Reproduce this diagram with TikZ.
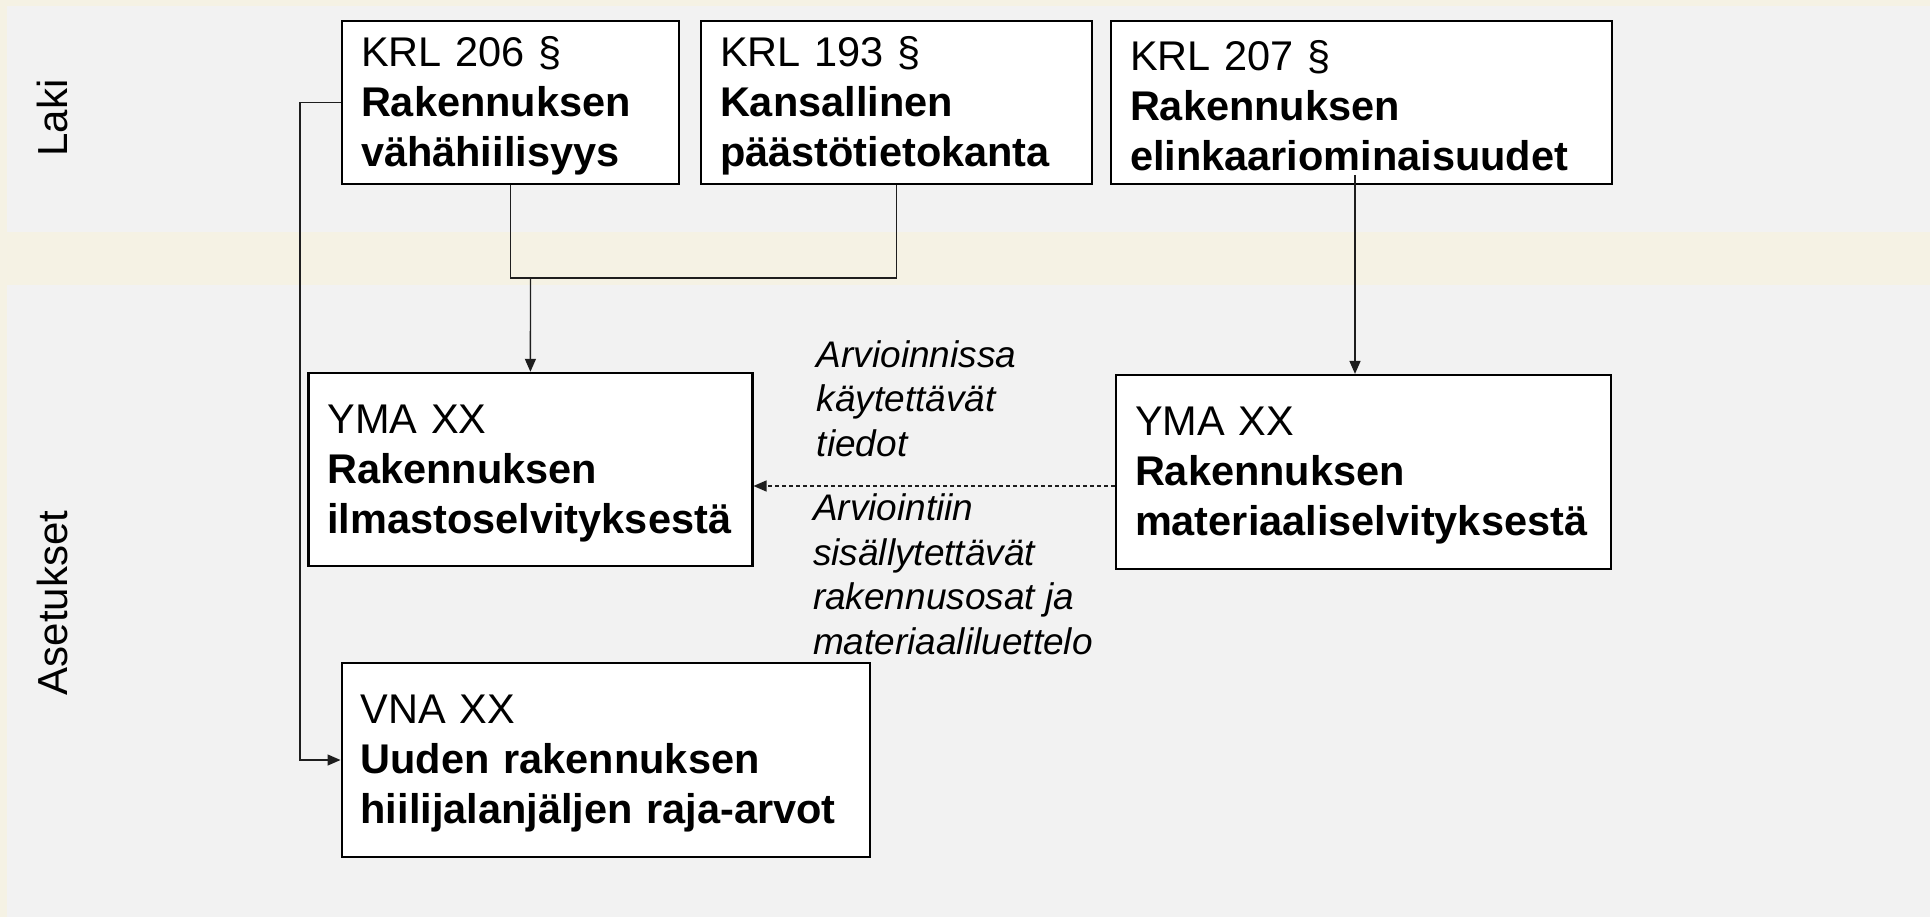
\documentclass[tikz,border=0pt]{standalone}
\usepackage{fontspec}
\setmainfont{Liberation Sans}
\usetikzlibrary{arrows.meta}
\definecolor{beige}{RGB}{245,242,228}
\definecolor{panel}{RGB}{242,242,242}
\definecolor{lineclr}{RGB}{30,30,30}
\newcommand{\boxlift}{\rule{0pt}{36pt}}
\tikzset{
  lawbox/.style={draw=black, line width=2.2pt, fill=white, inner xsep=19pt, inner ysep=0pt,
    align=left, font=\fontsize{41.5}{50}\selectfont, anchor=center},
  sidelabel/.style={rotate=90, font=\fontsize{42}{50}\selectfont, inner sep=0pt},
  notelabel/.style={font=\itshape\fontsize{37}{44.5}\selectfont, align=left, inner sep=0pt, anchor=north west},
  conn/.style={draw=lineclr, line width=1.4pt},
  arr/.style={-{Triangle[length=13pt,width=11pt]}}
}
\begin{document}
\begin{tikzpicture}[x=1pt,y=-1pt]
\useasboundingbox (0,0) rectangle (1930,917);
% backgrounds
\fill[beige] (0,0) rectangle (1930,917);
\fill[panel] (7,6) rectangle (1930,232);
\fill[panel] (7,285) rectangle (1930,917);
% side labels
\node[sidelabel] (laki) at (52,118) {Laki};
\node[sidelabel] (ase) at (52,603) {Asetukset};
% boxes
\node[lawbox, minimum width=337pt, minimum height=163pt, text width=299pt] (k206) at (510.5,102.5)
  {\boxlift KRL 206 §\\\textbf{Rakennuksen}\\\textbf{vähähiilisyys}};
\node[lawbox, minimum width=391pt, minimum height=163pt, text width=353pt] (k193) at (896.5,102.5)
  {\boxlift KRL 193 §\\\textbf{Kansallinen}\\\textbf{päästötietokanta}};
\node[lawbox, minimum width=501pt, minimum height=163pt, text width=463pt] (k207) at (1361.5,102.5)
  {\boxlift KRL 207 §\\\textbf{Rakennuksen}\\\textbf{elinkaariominaisuudet}};
\node[lawbox, minimum width=444pt, minimum height=193pt, text width=406pt] (yma) at (530.4,469.4)
  {\boxlift YMA XX\\\textbf{Rakennuksen}\\\textbf{ilmastoselvityksestä}};
\node[lawbox, minimum width=495pt, minimum height=194pt, text width=457pt] (ymb) at (1363.5,472)
  {\boxlift YMA XX\\\textbf{Rakennuksen}\\\textbf{materiaaliselvityksestä}};
\node[lawbox, minimum width=528pt, minimum height=194pt, text width=490pt] (vna) at (605.6,760)
  {\boxlift VNA XX\\\textbf{Uuden rakennuksen}\\\textbf{hiilijalanjäljen raja-arvot}};
% notes
\node[notelabel] (n1) at (816.6,340.2) {Arvioinnissa\\käytettävät\\tiedot};
\node[notelabel] (n2) at (812.8,493.5) {Arviointiin\\sisällytettävät\\rakennusosat ja\\materiaaliluettelo};
% connectors
\coordinate (j) at (530.5,278);
\draw[conn] (k206.south) |- (j) -| (k193.south);
\draw[conn,arr] (j) -- (yma.north);
\coordinate (l) at (300,0);
\draw[conn,arr] (k206.west) -| (l |- vna.west) -- (vna.west);
\coordinate (c7) at (1355,175);
\draw[conn,arr] (c7) -- (c7 |- ymb.north);
\coordinate (d) at (0,486);
\draw[conn, line width=1.2pt, dash pattern=on 4pt off 3pt, arr] (ymb.west |- d) -- (yma.east |- d);
\end{tikzpicture}
\end{document}
